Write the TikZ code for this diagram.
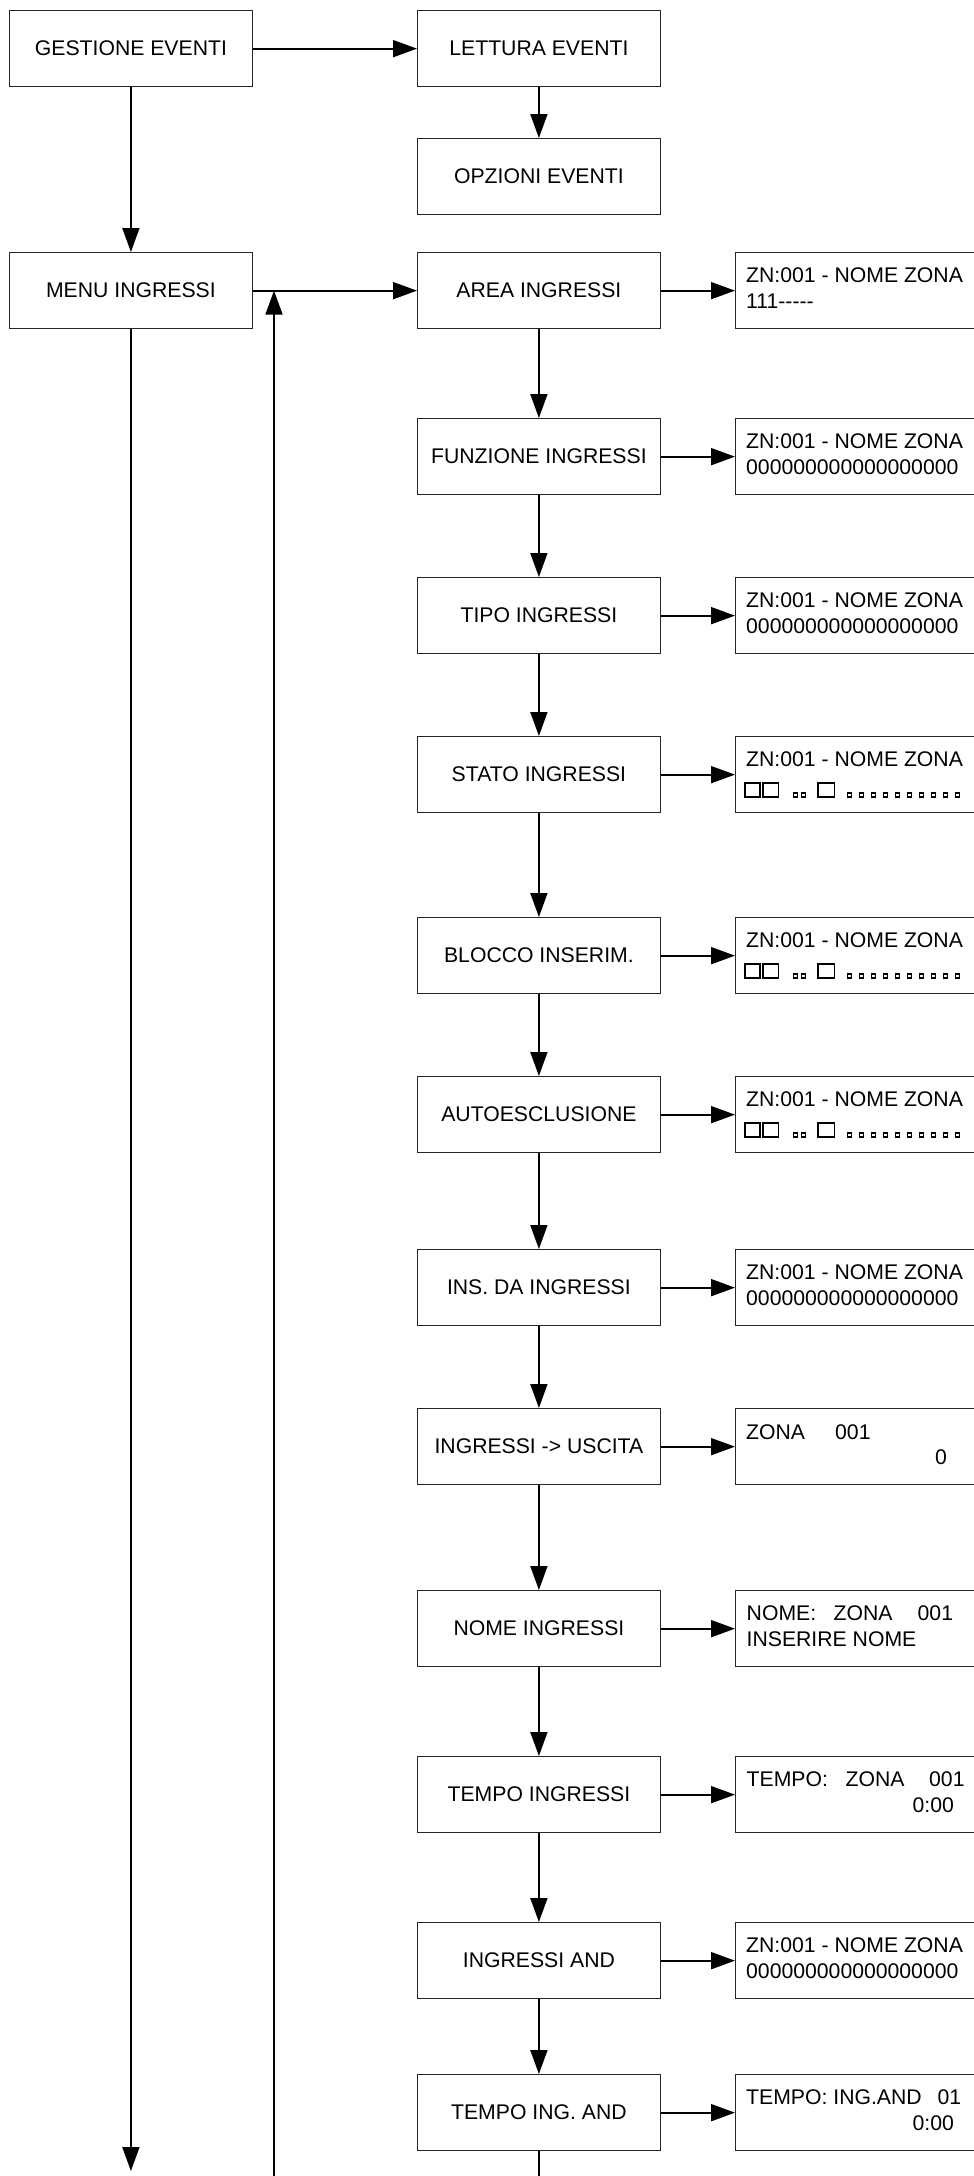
\documentclass[tikz,border=0pt]{standalone}
\usepackage{fontspec}
\newfontfamily\arialf{Liberation Sans}[Ligatures=TeXOff]
\usetikzlibrary{arrows.meta}
\newcommand\sqrowB[1]{%
  \draw[glyph] (744.8,#1+47.1) rectangle ++(15.1,13.8);
  \draw[glyph] (763.1,#1+47.1) rectangle ++(15.4,13.8);
  \draw[glyph] (818.1,#1+47.1) rectangle ++(16.4,13.8);
  \foreach \a in {793.3,801.3} {\draw[smallglyph] (\a,#1+56.8) rectangle ++(4.2,4.2);}
  \foreach \i in {0,...,9} {\draw[smallglyph] (847.5+12*\i,#1+56.8) rectangle ++(4.2,4.2);}
}
\begin{document}
\begin{tikzpicture}[x=1pt,y=-1pt,
  tfont/.style={font=\arialf\fontsize{21.2}{25}\selectfont},
  box/.style={draw=black!85, line width=1.3pt, minimum width=242.5pt, minimum height=76pt, inner sep=0pt, anchor=north west, tfont},
  rbox/.style={draw=black!85, line width=1.3pt, minimum width=290pt, minimum height=76pt, inner sep=0pt, anchor=north west},
  txt/.style={anchor=base west, inner sep=0pt, tfont},
  conn/.style={line width=1.8pt, -{Triangle[length=24pt,width=17pt]}},
  plainline/.style={line width=1.6pt},
  glyph/.style={line width=1.6pt},
  smallglyph/.style={line width=1.5pt},
]
\useasboundingbox (0,0) rectangle (974,2176);
\fill[white] (0,0) rectangle (974,2176);
\clip (0,0) rectangle (974,2176);

% left and top
\node[box] (ge) at (9,10) {GESTIONE EVENTI};
\node[box] (le) at (417,10) {LETTURA EVENTI};
\node[box] (oe) at (417,138) {OPZIONI EVENTI};
\node[box] (mi) at (9,252) {MENU INGRESSI};

% centre column
\node[box] (c1) at (417,252) {AREA INGRESSI};
\node[box] (c2) at (417,418) {FUNZIONE INGRESSI};
\node[box] (c3) at (417,577) {TIPO INGRESSI};
\node[box] (c4) at (417,736) {STATO INGRESSI};
\node[box] (c5) at (417,917) {BLOCCO INSERIM.};
\node[box] (c6) at (417,1076) {AUTOESCLUSIONE};
\node[box] (c7) at (417,1249) {INS. DA INGRESSI};
\node[box] (c8) at (417,1408) {INGRESSI -> USCITA};
\node[box] (c9) at (417,1590) {NOME INGRESSI};
\node[box] (c10) at (417,1756) {TEMPO INGRESSI};
\node[box] (c11) at (417,1922) {INGRESSI AND};
\node[box] (c12) at (417,2074) {TEMPO ING. AND};

% right column boxes
\node[rbox] (r1) at (735,252) {};
\node[rbox] (r2) at (735,418) {};
\node[rbox] (r3) at (735,577) {};
\node[rbox] (r4) at (735,736) {};
\node[rbox] (r5) at (735,917) {};
\node[rbox] (r6) at (735,1076) {};
\node[rbox] (r7) at (735,1249) {};
\node[rbox] (r8) at (735,1408) {};
\node[rbox] (r9) at (735,1590) {};
\node[rbox] (r10) at (735,1756) {};
\node[rbox] (r11) at (735,1922) {};
\node[rbox] (r12) at (735,2074) {};

% right column texts
\node[txt] (t1a) at (746,282.5) {ZN:001 - NOME ZONA};
\node[txt] (t1b) at (746,308) {111-----};
\node[txt] (t2a) at (746,448.5) {ZN:001 - NOME ZONA};
\node[txt] (t2b) at (746,474) {000000000000000000};
\node[txt] (t3a) at (746,607.5) {ZN:001 - NOME ZONA};
\node[txt] (t3b) at (746,633) {000000000000000000};
\node[txt] (t4a) at (746,766.5) {ZN:001 - NOME ZONA};
\sqrowB{736}
\node[txt] (t5a) at (746,947.5) {ZN:001 - NOME ZONA};
\sqrowB{917}
\node[txt] (t6a) at (746,1106.5) {ZN:001 - NOME ZONA};
\sqrowB{1076}
\node[txt] (t7a) at (746,1279.5) {ZN:001 - NOME ZONA};
\node[txt] (t7b) at (746,1305) {000000000000000000};
\node[txt] (t8a) at (746,1439) {ZONA};
\node[txt] (t8b) at (835,1439) {001};
\node[txt] (t8c) at (935,1464.5) {0};
\node[txt] (t9a) at (746.5,1620.5) {NOME:};
\node[txt] (t9b) at (833.5,1620.5) {ZONA};
\node[txt] (t9c) at (917.5,1620.5) {001};
\node[txt] (t9d) at (746.5,1646) {INSERIRE NOME};
\node[txt] (t10a) at (746.5,1786.5) {TEMPO:};
\node[txt] (t10b) at (845.5,1786.5) {ZONA};
\node[txt] (t10c) at (929,1786.5) {001};
\node[txt] (t10d) at (912.5,1812) {0:00};
\node[txt] (t11a) at (746,1952.5) {ZN:001 - NOME ZONA};
\node[txt] (t11b) at (746,1978) {000000000000000000};
\node[txt] (t12a) at (746,2104.5) {TEMPO: ING.AND};
\node[txt] (t12b) at (937.5,2104.5) {01};
\node[txt] (t12c) at (912.5,2130) {0:00};

% free ends
\coordinate (leftend) at (130,2171);
\coordinate (upbot) at (274,2176);
\coordinate (bot) at (0,2176);

% connectors
\draw[conn] (ge) -- (le);
\draw[conn] (le) -- (oe);
\draw[conn] (ge) -- (mi);
\draw[conn] (mi) -- (c1);
\draw[conn] (mi.south) -- (mi.south |- leftend);
\draw[conn] (upbot) -- (upbot |- mi.east);
\foreach \i in {1,...,12} {\draw[conn] (c\i) -- (r\i);}
\foreach \i/\j in {1/2,2/3,3/4,4/5,5/6,6/7,7/8,8/9,9/10,10/11,11/12} {\draw[conn] (c\i) -- (c\j);}
\draw[plainline] (c12.south) -- (c12.south |- bot);
\end{tikzpicture}
\end{document}
